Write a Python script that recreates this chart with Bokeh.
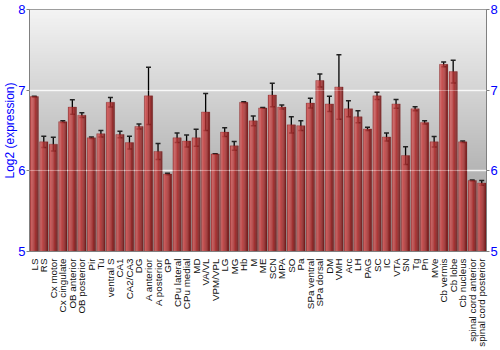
import numpy as np
from math import pi
from bokeh.plotting import figure
from bokeh.models import (ColumnDataSource, FixedTicker, LinearAxis, Whisker,
                          TeeHead, Range1d, Grid)
from bokeh.embed import file_html
from bokeh.resources import INLINE

regions = ["LS", "RS", "Cx motor", "Cx cingulate", "OB anterior", "OB posterior",
           "Pir", "Tu", "ventral S", "CA1", "CA2/CA3", "DG", "A anterior",
           "A posterior", "GP", "CPu lateral", "CPu medial", "MD", "VA/VL",
           "VPM/VPL", "LG", "MG", "Hb", "M", "ME", "SCN", "MPA", "SO", "Pa",
           "SPa ventral", "SPa dorsal", "DM", "VMH", "Arc", "LH", "PAG", "SC",
           "IC", "VTA", "SN", "Tg", "Pn", "MVe", "Cb vermis", "Cb lobe",
           "Cb nucleus", "spinal cord anterior", "spinal cord posterior"]

expression = [6.92, 6.36, 6.33, 6.61, 6.79, 6.69, 6.41, 6.46, 6.85, 6.45, 6.35,
              6.55, 6.93, 6.24, 5.96, 6.41, 6.37, 6.41, 6.73, 6.21, 6.48, 6.31,
              6.85, 6.62, 6.78, 6.94, 6.79, 6.57, 6.56, 6.84, 7.12, 6.83, 7.04,
              6.77, 6.67, 6.52, 6.93, 6.42, 6.83, 6.19, 6.77, 6.60, 6.36, 7.32,
              7.23, 6.36, 5.88, 5.85]

error = [0.005, 0.07, 0.085, 0.012, 0.09, 0.03, 0.01, 0.04, 0.06, 0.04, 0.08,
         0.03, 0.355, 0.10, 0.01, 0.06, 0.075, 0.105, 0.23, 0.003, 0.055, 0.055,
         0.005, 0.06, 0.005, 0.145, 0.025, 0.10, 0.06, 0.06, 0.08, 0.095, 0.40,
         0.10, 0.075, 0.02, 0.045, 0.05, 0.055, 0.11, 0.025, 0.02, 0.065, 0.03,
         0.14, 0.01, 0.005, 0.03]

y_ticks = [5, 6, 7, 8]

n = len(regions)
xs = np.arange(n)
BASE = 5.0
BAR_W = 0.87

p = figure(width=500, height=350, x_range=Range1d(-0.5, n - 0.5),
           y_range=Range1d(5, 8), output_backend="svg", toolbar_location=None,
           min_border_left=28, min_border_right=14, min_border_top=9,
           min_border_bottom=99, background_fill_color="#cccccc",
           border_fill_color="white")
p.outline_line_color = "#808080"

# vertical gradient background
N = 256
t = np.linspace(0, 1, N)[:, None]  # 0 bottom -> 1 top
top_c = np.array([244, 244, 244])
bot_c = np.array([150, 150, 150])
cols = (bot_c + (top_c - bot_c) * t).astype(np.uint32)
img = np.empty((N, 1), dtype=np.uint32)
view = img.view(dtype=np.uint8).reshape((N, 1, 4))
view[:, :, 0] = cols[:, 0:1]
view[:, :, 1] = cols[:, 1:2]
view[:, :, 2] = cols[:, 2:3]
view[:, :, 3] = 255
p.image_rgba(image=[img], x=-0.5, y=5, dw=n, dh=3, level="image")

# cylindrical shading of bars: strips
stops_f = [0.0, 0.12, 0.3, 0.5, 0.7, 0.85, 1.0]
stops_c = [(150, 42, 42), (212, 88, 88), (200, 72, 72), (182, 52, 52),
           (158, 36, 36), (130, 24, 24), (104, 14, 14)]
NS = 10
sw = BAR_W / NS
sx, stop, scol = [], [], []
for i in range(NS):
    f = (i + 0.5) / NS
    c = [int(np.interp(f, stops_f, [s[k] for s in stops_c])) for k in range(3)]
    col = "#%02x%02x%02x" % tuple(c)
    off = -BAR_W / 2 + sw * (i + 0.5)
    for j in range(n):
        sx.append(xs[j] + off)
        stop.append(expression[j])
        scol.append(col)
strips = ColumnDataSource(dict(x=sx, top=stop, color=scol))
p.vbar(x="x", top="top", bottom=BASE, width=sw * 1.05, fill_color="color",
       line_color=None, source=strips)

src = ColumnDataSource(dict(
    x=xs, top=expression,
    upper=[v + e for v, e in zip(expression, error)],
    lower=[v - e for v, e in zip(expression, error)]))
p.vbar(x="x", top="top", bottom=BASE, width=BAR_W, fill_color=None,
       line_color="#7a1a1a", line_alpha=0.35, line_width=0.8, source=src)

# error bars
w = Whisker(base="x", upper="upper", lower="lower", source=src,
            line_color="black", line_width=1.3,
            upper_head=TeeHead(size=5, line_color="#222222", line_width=1.5),
            lower_head=TeeHead(size=5, line_color="#222222", line_width=1.5))
p.add_layout(w)

# grid
p.xgrid.visible = False
p.ygrid.ticker = FixedTicker(ticks=[6, 7])
p.ygrid.grid_line_color = "white"
p.ygrid.grid_line_alpha = 0.8
p.ygrid.grid_line_width = 1.5
over = Grid(dimension=1, ticker=FixedTicker(ticks=[6, 7]), level="overlay",
            grid_line_color="white", grid_line_alpha=0.3, grid_line_width=1.2)
p.add_layout(over)

# axes
def style_y(ax):
    ax.ticker = FixedTicker(ticks=y_ticks)
    ax.major_label_text_color = "#0000ff"
    ax.major_label_text_font = "Liberation Sans"
    ax.major_label_text_font_size = "13px"
    ax.major_label_standoff = 1
    ax.axis_line_color = "#808080"
    ax.major_tick_line_color = "#808080"
    ax.major_tick_out = 3
    ax.major_tick_in = 0
    ax.minor_tick_line_color = None

style_y(p.yaxis[0])
p.yaxis.axis_label = "Log2 (expression)"
p.yaxis.axis_label_text_color = "#0000ff"
p.yaxis.axis_label_text_font = "Liberation Sans"
p.yaxis.axis_label_text_font_size = "12px"
p.yaxis.axis_label_text_font_style = "normal"
p.yaxis.axis_label_standoff = -2

ry = LinearAxis()
style_y(ry)
p.add_layout(ry, "right")

p.xaxis.ticker = FixedTicker(ticks=list(range(n)))
p.xaxis.major_label_overrides = {i: name for i, name in enumerate(regions)}
p.xaxis.major_label_orientation = pi / 2
p.xaxis.major_label_text_font = "Liberation Sans"
p.xaxis.major_label_text_font_size = "9.8px"
p.xaxis.major_label_text_color = "#111111"
p.xaxis.major_label_standoff = 1
p.xaxis.major_tick_line_color = None
p.xaxis.minor_tick_line_color = None
p.xaxis.axis_line_color = "#808080"

open("out.html", "w").write(file_html(p, INLINE))
